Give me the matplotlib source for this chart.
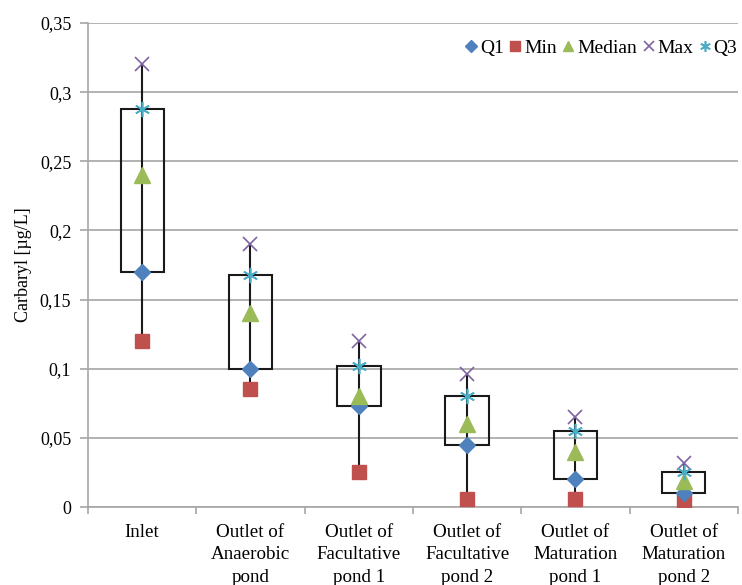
import numpy as np
import matplotlib
matplotlib.use('Agg')
import matplotlib.pyplot as plt
from matplotlib.patches import Rectangle
from matplotlib.ticker import FuncFormatter, FixedLocator

plt.rcParams['font.family'] = ['Liberation Serif', 'DejaVu Serif']

categories = ['Inlet', 'Outlet of\nAnaerobic\npond', 'Outlet of\nFacultative\npond 1',
              'Outlet of\nFacultative\npond 2', 'Outlet of\nMaturation\npond 1',
              'Outlet of\nMaturation\npond 2']
q1 = [0.17, 0.10, 0.073, 0.045, 0.020, 0.010]
vmin = [0.12, 0.085, 0.025, 0.006, 0.006, 0.004]
median = [0.24, 0.14, 0.080, 0.060, 0.040, 0.019]
vmax = [0.32, 0.19, 0.120, 0.096, 0.065, 0.032]
q3 = [0.288, 0.168, 0.102, 0.080, 0.055, 0.025]

blue = '#4F81BD'
red = '#C0504D'
green = '#9BBB59'
purple = '#8064A2'
cyan = '#4BACC6'
grid_col = '#A6A6A6'

fig = plt.figure(figsize=(7.42, 5.85), dpi=100)
ax = fig.add_axes([88/742, 78/585, 650/742, 484/585])

x = np.arange(len(categories))
box_w = 0.4

# high-low lines and boxes
for i in x:
    ax.plot([i, i], [vmin[i], vmax[i]], color='#1a1a1a', lw=1.5, zorder=3)
    ax.add_patch(Rectangle((i - box_w/2, q1[i]), box_w, q3[i] - q1[i],
                           fill=False, edgecolor='#1a1a1a', lw=1.5, zorder=3))

ax.plot(x, q1, linestyle='none', marker='D', ms=8.5, color=blue, label='Q1', zorder=5)
ax.plot(x, vmin, linestyle='none', marker='s', ms=10.5, color=red, label='Min', zorder=4)
ax.plot(x, median, linestyle='none', marker='^', ms=11, color=green, label='Median', zorder=5)
ax.plot(x, vmax, linestyle='none', marker='x', ms=10, mew=1.2, color=purple, label='Max', zorder=5)
ax.plot(x, q3, linestyle='none', marker=(6, 2, 0), ms=11, mew=1.2, color=cyan, label='Q3', zorder=5)

ax.set_xlim(-0.5, len(categories) - 0.5)
ax.set_ylim(0, 0.35)
ax.set_yticks(np.arange(0, 0.351, 0.05))
ax.yaxis.set_major_formatter(FuncFormatter(lambda v, p: ('%g' % round(v, 2)).replace('.', ',')))
ax.set_xticks(x)
ax.set_xticklabels(categories, fontsize=13.7, linespacing=1.42)
ax.xaxis.set_minor_locator(FixedLocator(np.arange(-0.5, len(categories), 1)))
ax.tick_params(axis='x', which='major', length=0, pad=12)
ax.tick_params(axis='x', which='minor', length=5, color=grid_col, width=1.2, direction='out')
ax.tick_params(axis='y', length=6, color=grid_col, width=1.2, labelsize=13, pad=6)
ax.set_ylabel('Carbaryl [µg/L]', fontsize=13, labelpad=6)

ax.grid(axis='y', color=grid_col, lw=1.2, zorder=0)
ax.set_axisbelow(True)
for s in ['top', 'right']:
    ax.spines[s].set_visible(False)
for s in ['left', 'bottom']:
    ax.spines[s].set_color(grid_col)
    ax.spines[s].set_linewidth(1.2)

ax.legend(loc='upper right', ncol=5, frameon=False, fontsize=14, handletextpad=0.0,
          columnspacing=0.15, handlelength=0.9, markerscale=0.7,
          bbox_to_anchor=(1.017, 0.99), borderaxespad=0.2)

fig.savefig('out.png', dpi=100)
